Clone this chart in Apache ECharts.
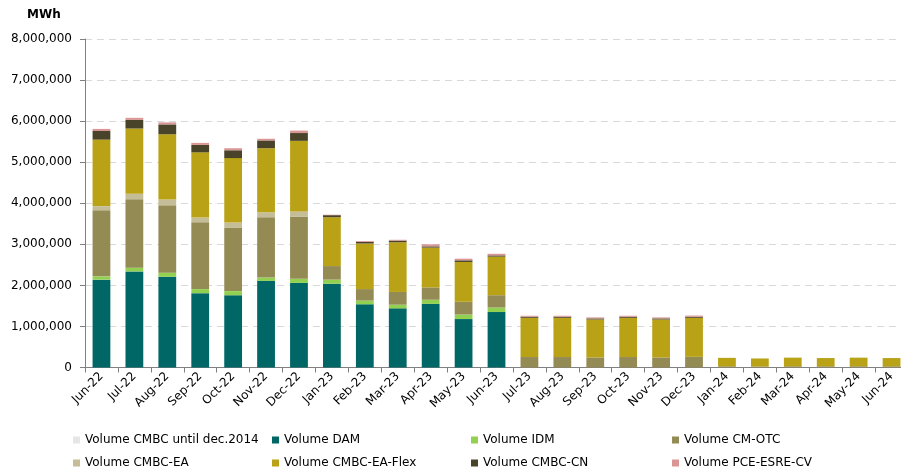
<!DOCTYPE html>
<html>
<head>
<meta charset="utf-8">
<script src="https://cdn.jsdelivr.net/npm/echarts@6/dist/echarts.min.js"></script>
<style>
  html, body { margin: 0; padding: 0; background: #fff; overflow: hidden; }
  #chart { width: 908px; height: 474px; }
</style>
</head>
<body>
<div id="chart"></div>
<script>
// months, Jun-22 .. Jun-24
const months = ['Jun-22', 'Jul-22', 'Aug-22', 'Sep-22', 'Oct-22', 'Nov-22', 'Dec-22',
  'Jan-23', 'Feb-23', 'Mar-23', 'Apr-23', 'May-23', 'Jun-23', 'Jul-23', 'Aug-23',
  'Sep-23', 'Oct-23', 'Nov-23', 'Dec-23', 'Jan-24', 'Feb-24', 'Mar-24', 'Apr-24',
  'May-24', 'Jun-24'];

// volumes in MWh
const volCmbc2014 = [0, 0, 0, 0, 0, 0, 0, 0, 0, 0, 0, 0, 0, 0, 0, 0, 0, 0, 0, 0, 0, 0, 0, 0, 0];
const volDam = [2140000, 2340000, 2210000, 1810000, 1760000, 2110000, 2060000, 2040000, 1540000,
  1440000, 1550000, 1180000, 1350000, 0, 0, 0, 0, 0, 0, 0, 0, 0, 0, 0, 0];
const volIdm = [80000, 90000, 100000, 100000, 100000, 80000, 100000, 100000, 90000, 90000,
  100000, 110000, 110000, 0, 0, 0, 0, 0, 0, 0, 0, 0, 0, 0, 0];
const volCmOtc = [1610000, 1670000, 1640000, 1630000, 1550000, 1470000, 1510000, 330000, 280000,
  310000, 300000, 310000, 300000, 255000, 255000, 245000, 255000, 245000, 260000, 30000, 25000,
  30000, 30000, 30000, 30000];
const volCmbcEa = [100000, 130000, 140000, 110000, 120000, 120000, 130000, 0, 0, 0, 0, 0, 0,
  0, 0, 0, 0, 0, 0, 0, 0, 0, 0, 0, 0];
const volCmbcEaFlex = [1620000, 1590000, 1590000, 1590000, 1570000, 1560000, 1720000, 1190000,
  1110000, 1210000, 970000, 970000, 940000, 955000, 955000, 925000, 955000, 925000, 950000,
  205000, 195000, 210000, 200000, 210000, 200000];
const volCmbcCn = [210000, 210000, 240000, 180000, 190000, 190000, 190000, 50000, 40000, 40000,
  30000, 40000, 30000, 25000, 25000, 25000, 25000, 25000, 25000, 0, 0, 0, 0, 0, 0];
const volPce = [50000, 50000, 50000, 50000, 50000, 40000, 60000, 10000, 20000, 20000, 50000,
  40000, 40000, 25000, 25000, 25000, 25000, 25000, 30000, 0, 0, 0, 0, 0, 0];

const seriesNames = ['Volume CMBC until dec.2014', 'Volume DAM', 'Volume IDM', 'Volume CM-OTC',
  'Volume CMBC-EA', 'Volume CMBC-EA-Flex', 'Volume CMBC-CN', 'Volume PCE-ESRE-CV'];
const seriesData = [volCmbc2014, volDam, volIdm, volCmOtc, volCmbcEa, volCmbcEaFlex, volCmbcCn, volPce];
const colors = ['#e6e6e6', '#006666', '#92d050', '#948a54', '#c4bd97', '#b9a215', '#494429', '#d99694'];

const font = 'DejaVu Sans';
const legendX = [68, 267, 466, 667];
const legendY = [429, 452];

const chart = echarts.init(document.getElementById('chart'));
chart.setOption({
  animation: false,
  color: colors,
  textStyle: { fontFamily: font },
  title: {
    text: 'MWh',
    left: 22, top: 4,
    textStyle: { fontFamily: font, fontSize: 12, fontWeight: 'bold', color: '#000' }
  },
  legend: seriesNames.map((n, i) => ({
    data: [n],
    left: legendX[i % 4],
    top: legendY[Math.floor(i / 4)],
    itemWidth: 7, itemHeight: 7,
    icon: 'rect',
    textStyle: { fontFamily: font, fontSize: 12, color: '#000' }
  })),
  grid: { left: 85, right: 0, top: 39, bottom: 106.5, containLabel: false },
  xAxis: {
    type: 'category',
    data: months,
    axisLine: { lineStyle: { color: '#808080', width: 1 } },
    axisTick: { show: true, length: 5, lineStyle: { color: '#808080' } },
    axisLabel: { rotate: 45, interval: 0, fontSize: 12, color: '#000', margin: 7, fontFamily: font }
  },
  yAxis: {
    type: 'value',
    min: 0, max: 8000000, interval: 1000000,
    axisLine: { show: true, lineStyle: { color: '#808080', width: 1 } },
    axisTick: { show: true, length: 5, lineStyle: { color: '#808080' } },
    axisLabel: {
      fontSize: 12, color: '#000', margin: 13, fontFamily: font,
      formatter: v => v.toLocaleString('en-US')
    },
    splitLine: { lineStyle: { color: '#d9d9d9', type: [7, 5], width: 1 } }
  },
  series: seriesNames.map((n, i) => ({
    name: n,
    type: 'bar',
    stack: 'vol',
    barWidth: '54%',
    data: seriesData[i],
    itemStyle: { color: colors[i] }
  }))
});
</script>
</body>
</html>
